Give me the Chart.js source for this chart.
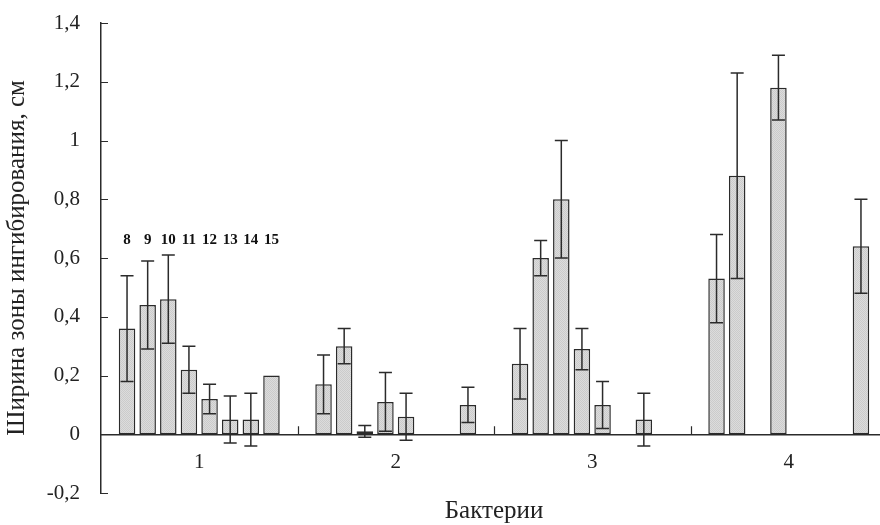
<!doctype html>
<html lang="ru">
<head>
<meta charset="UTF-8" />
<title>Ширина зоны ингибирования</title>
<script src="https://cdn.jsdelivr.net/npm/chart.js"></script>
<style>
  html, body { margin: 0; padding: 0; background: #fff; overflow: hidden; }
  .wrap { width: 890px; height: 525px; }
</style>
</head>
<body>
<div class="wrap"><canvas id="chart"></canvas></div>
<script>
const bacteria = ["1", "2", "3", "4"];
const series = ["8", "9", "10", "11", "12", "13", "14", "15"];
// средние значения: строка = серия (8..15), столбец = бактерия (1..4)
const means = [
  [0.36, 0.17, 0.24, 0.53],
  [0.44, 0.30, 0.60, 0.88],
  [0.46, 0.01, 0.80, null],
  [0.22, 0.11, 0.29, 1.18],
  [0.12, 0.06, 0.10, null],
  [0.05, null, null, null],
  [0.05, null, 0.05, null],
  [0.20, 0.10, null, 0.64],
];
// погрешности (±)
const errors = [
  [0.18, 0.10, 0.12, 0.15],
  [0.15, 0.06, 0.06, 0.35],
  [0.15, 0.02, 0.20, null],
  [0.08, 0.10, 0.07, 0.11],
  [0.05, 0.08, 0.08, null],
  [0.08, null, null, null],
  [0.09, null, 0.09, null],
  [0, 0.06, null, 0.16],
];
const yTicks = [-0.2, 0, 0.2, 0.4, 0.6, 0.8, 1, 1.2, 1.4];
const labelLevel = 0.66; // высота подписей серий над первой группой

const ink = "#2b2b2b";
Chart.defaults.font.family = '"Liberation Serif", "Times New Roman", serif';
Chart.defaults.color = "#222";

const canvas = document.getElementById("chart");
const ctx0 = canvas.getContext("2d");

// мелкая точечная заливка как на оригинале
const tile = document.createElement("canvas");
tile.width = 2; tile.height = 2;
const t = tile.getContext("2d");
t.fillStyle = "#dcdcdc"; t.fillRect(0, 0, 2, 2);
t.fillStyle = "#cbcbcb"; t.fillRect(0, 0, 1, 1); t.fillRect(1, 1, 1, 1);
const fill = ctx0.createPattern(tile, "repeat");

const errorBars = {
  id: "errorBars",
  afterDatasetsDraw(chart) {
    const { ctx, scales: { y } } = chart;
    ctx.save();
    ctx.strokeStyle = ink;
    ctx.lineWidth = 1.5;
    chart.data.datasets.forEach((ds, i) => {
      chart.getDatasetMeta(i).data.forEach((bar, j) => {
        const m = ds.data[j], e = errors[i][j];
        if (m == null || !e) return;
        const top = y.getPixelForValue(m + e);
        const bot = y.getPixelForValue(m - e);
        ctx.beginPath();
        ctx.moveTo(bar.x, top); ctx.lineTo(bar.x, bot);
        ctx.moveTo(bar.x - 6.5, top); ctx.lineTo(bar.x + 6.5, top);
        ctx.moveTo(bar.x - 6.5, bot); ctx.lineTo(bar.x + 6.5, bot);
        ctx.stroke();
      });
    });
    // подписи серий над первой бактерией
    ctx.fillStyle = "#111";
    ctx.font = 'bold 15px "Liberation Serif", serif';
    ctx.textAlign = "center";
    ctx.textBaseline = "middle";
    const ly = y.getPixelForValue(labelLevel);
    chart.data.datasets.forEach((ds, i) => {
      const bar = chart.getDatasetMeta(i).data[0];
      ctx.fillText(ds.label, bar.x, ly);
    });
    ctx.restore();
  },
};

// засечки внутрь области графика
const innerTicks = {
  id: "innerTicks",
  afterDraw(chart) {
    const { ctx, chartArea, scales: { x, y } } = chart;
    ctx.save();
    ctx.strokeStyle = ink;
    ctx.lineWidth = 1.2;
    ctx.beginPath();
    yTicks.forEach((v) => {
      const py = Math.round(y.getPixelForValue(v)) + 0.5;
      ctx.moveTo(chartArea.left, py);
      ctx.lineTo(chartArea.left + 7, py);
    });
    const y0 = y.getPixelForValue(0);
    for (let i = 1; i < bacteria.length; i++) {
      const px = Math.round((x.getPixelForValue(i - 1) + x.getPixelForValue(i)) / 2) + 0.5;
      ctx.moveTo(px, y0);
      ctx.lineTo(px, y0 - 8);
    }
    ctx.stroke();
    ctx.restore();
  },
};

new Chart(canvas, {
  type: "bar",
  data: {
    labels: bacteria,
    datasets: series.map((name, i) => ({
      label: name,
      data: means[i],
      backgroundColor: fill,
      borderColor: ink,
      borderWidth: 1.5,
      borderSkipped: false,
      categoryPercentage: 0.84,
      barPercentage: 0.8,
    })),
  },
  options: {
    responsive: true,
    maintainAspectRatio: false,
    animation: false,
    layout: { padding: { top: 23, right: 3, bottom: 32, left: 0 } },
    plugins: { legend: { display: false }, tooltip: { enabled: false } },
    scales: {
      x: {
        position: { y: 0 },
        grid: { display: false, drawTicks: true, tickLength: 8 },
        border: { display: true, color: ink, width: 1.5 },
        ticks: { padding: 8, font: { size: 21 } },
        title: {
          display: true,
          text: "Бактерии",
          font: { size: 25 },
          padding: { top: 13, bottom: 0 },
        },
      },
      y: {
        min: -0.2,
        max: 1.4,
        afterBuildTicks: (s) => { s.ticks = yTicks.map((v) => ({ value: v })); },
        afterFit: (s) => { s.width = 101; },
        grid: { display: false, drawTicks: true, tickLength: 18 },
        border: { display: true, color: ink, width: 1.5 },
        ticks: {
          padding: 3,
          font: { size: 21 },
          callback: (v) => String(v).replace(".", ","),
        },
        title: {
          display: true,
          text: "Ширина зоны ингибирования, см",
          font: { size: 25 },
          padding: { top: 2, bottom: 0 },
        },
      },
    },
  },
  plugins: [errorBars, innerTicks],
});
</script>
</body>
</html>
